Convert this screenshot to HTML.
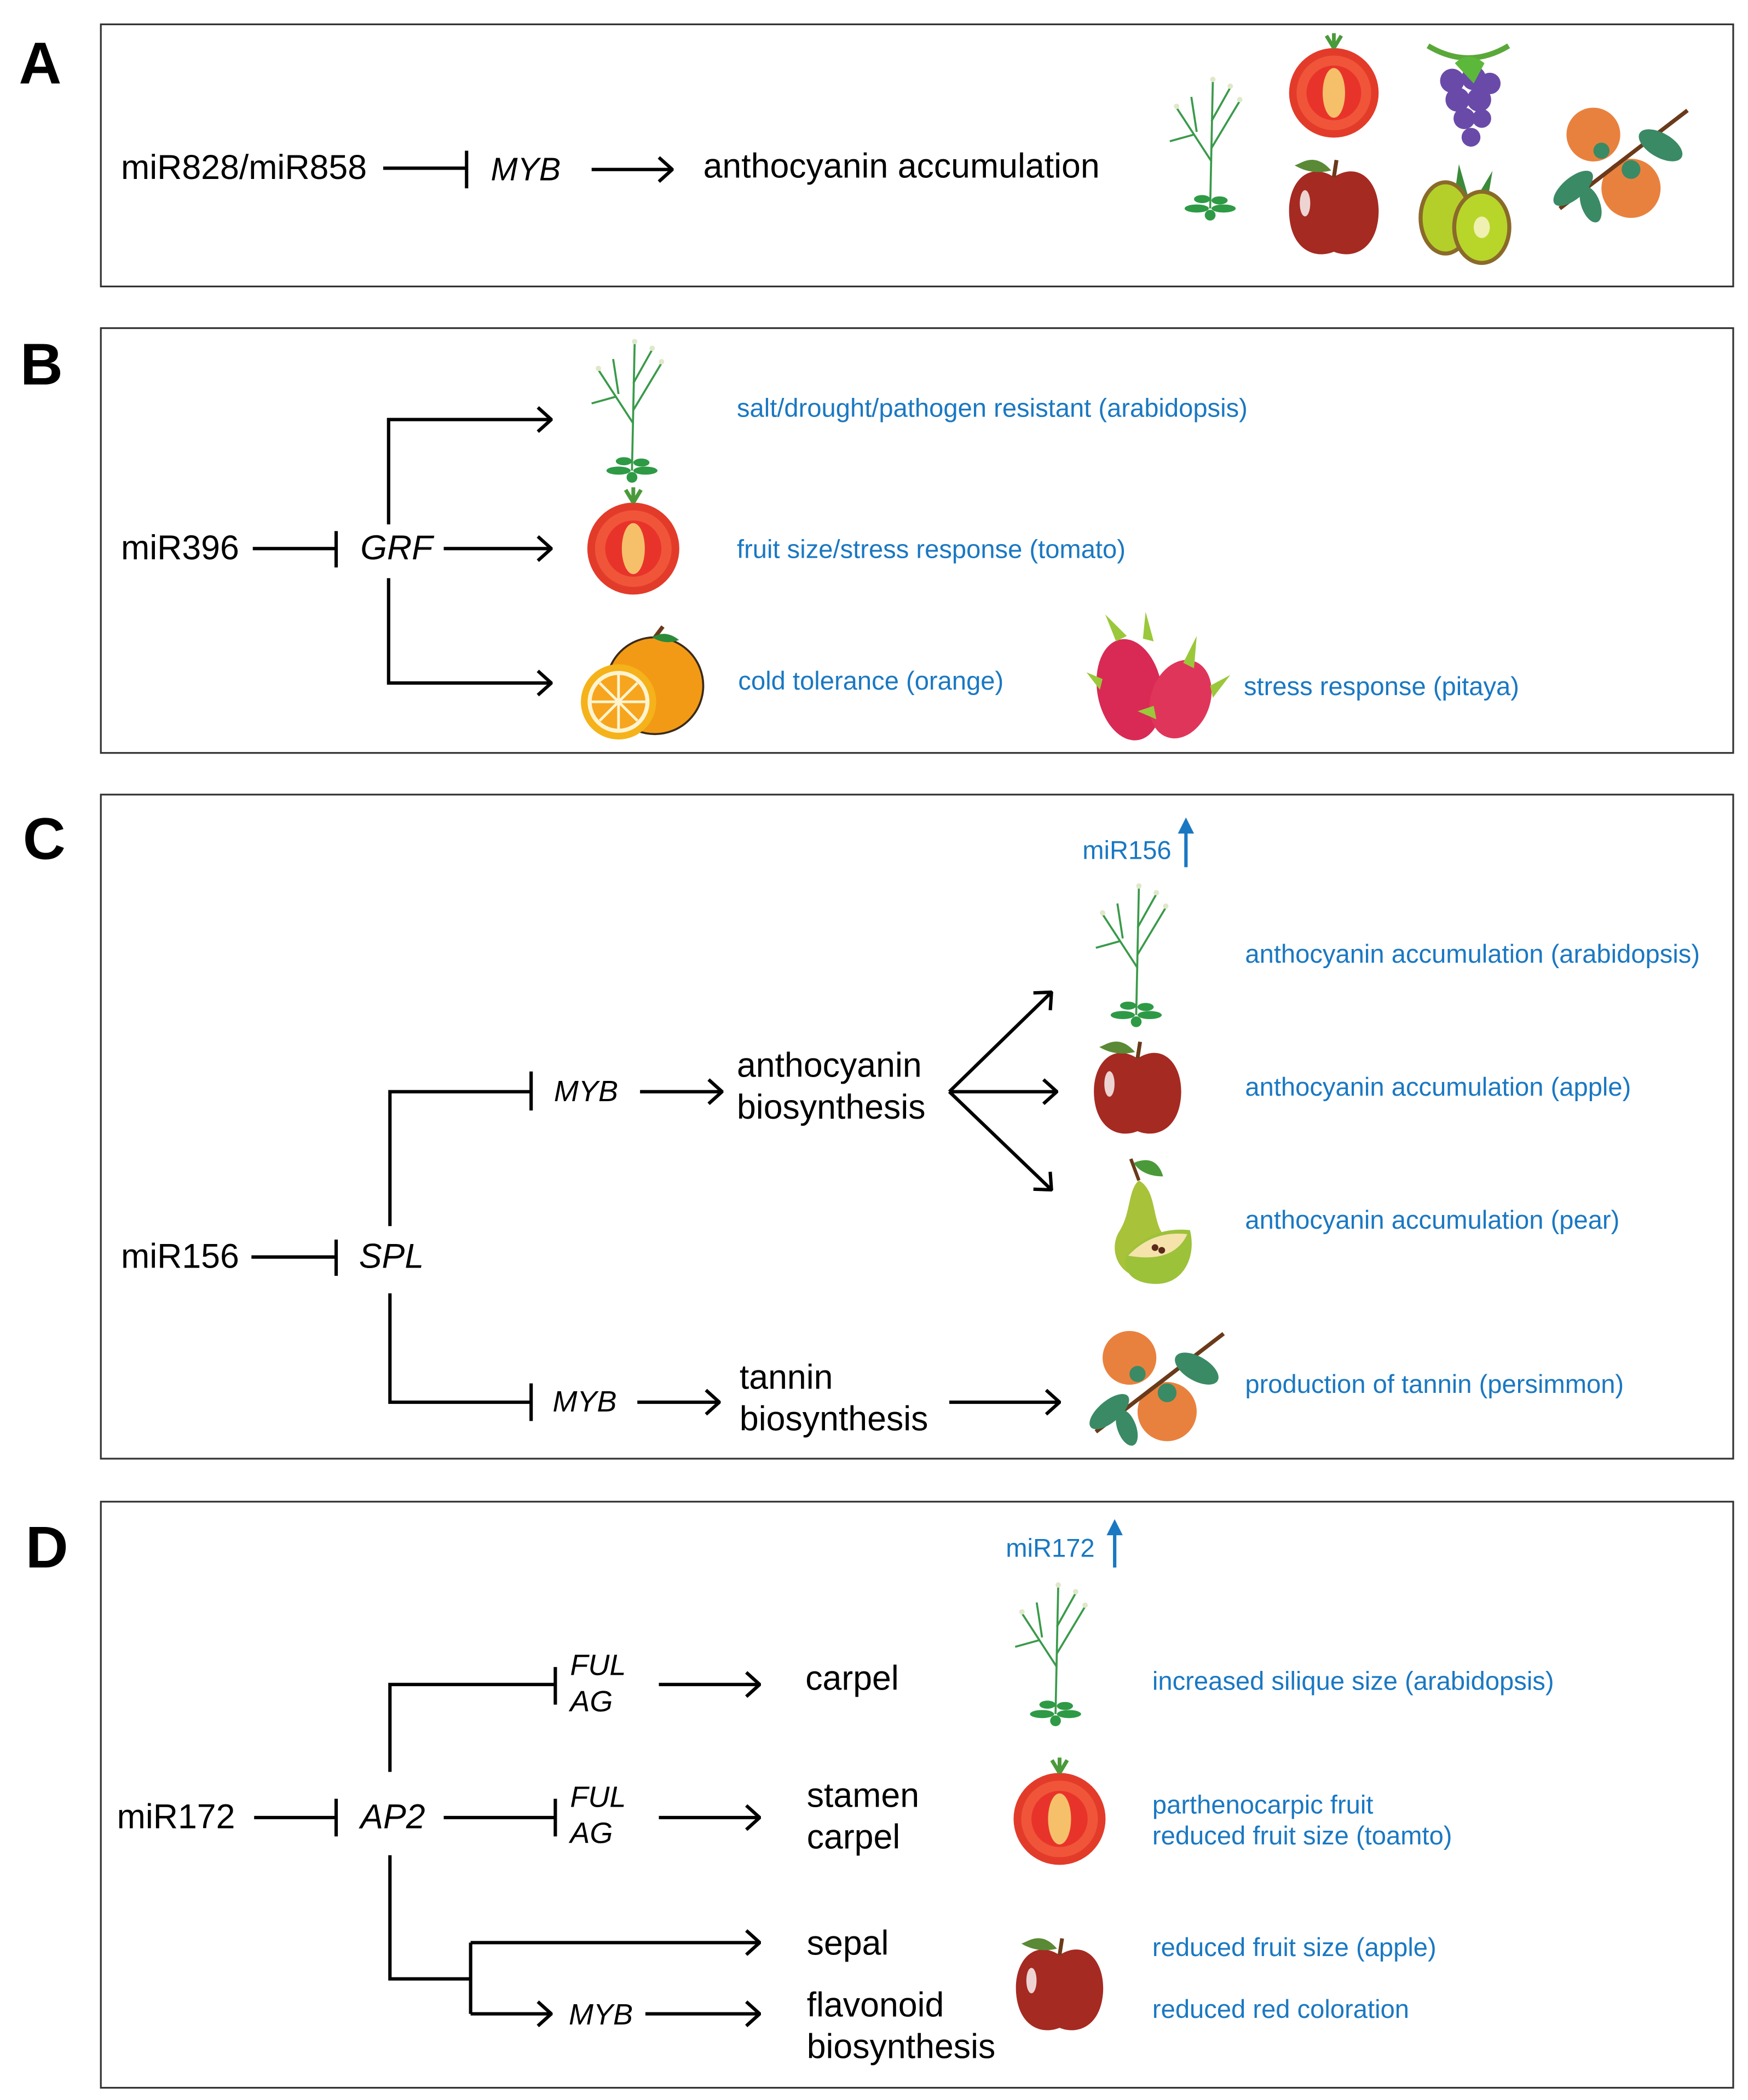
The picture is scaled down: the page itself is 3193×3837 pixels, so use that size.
<!DOCTYPE html>
<html><head><meta charset="utf-8"><style>html,body{margin:0;padding:0;background:#fff}svg{display:block}</style></head>
<body>
<svg xmlns="http://www.w3.org/2000/svg" width="3193" height="3837" viewBox="0 0 1300 1562" font-family="Liberation Sans, Arial, sans-serif">
<defs>
<marker id="ar" markerWidth="12" markerHeight="20" refX="11" refY="10" orient="auto" markerUnits="userSpaceOnUse"><path d="M1,1 L11,10 L1,19" fill="none" stroke="#000" stroke-width="2.5"/></marker>
<symbol id="plant" viewBox="-40 -55 80 110" overflow="visible">
<g stroke="#3a9a4a" stroke-width="1.5" fill="none"><path d="M0,45 L2,-50"/><path d="M1,10 L-25,-30"/><path d="M1,0 L22,-35"/><path d="M-12,-10 L-30,-5"/><path d="M1,-20 L15,-45"/><path d="M-10,-12 L-14,-38"/></g>
<g fill="#2e9a45"><ellipse cx="-10" cy="45" rx="9" ry="3"/><ellipse cx="10" cy="45" rx="9" ry="3"/><ellipse cx="-6" cy="38" rx="6" ry="3"/><ellipse cx="7" cy="39" rx="6" ry="3"/><ellipse cx="0" cy="50" rx="4" ry="4"/></g>
<g fill="#dfe8c8"><circle cx="-25" cy="-31" r="2"/><circle cx="22" cy="-36" r="2"/><circle cx="15" cy="-46" r="2"/><circle cx="2" cy="-51" r="2"/></g>
</symbol>
<symbol id="tomato" viewBox="-40 -40 80 80" overflow="visible">
<circle r="36" fill="#e33b2a"/><circle r="30" fill="#f0553a"/><circle r="22" fill="#e8332a"/><ellipse rx="9" ry="20" fill="#f6c06a"/>
<path d="M0,-36 L-6,-46 M0,-36 L6,-46 M0,-36 L0,-48" stroke="#4a9a3a" stroke-width="3"/>
</symbol>
<symbol id="apple" viewBox="-40 -40 80 80" overflow="visible">
<path d="M0,-25 C-20,-38 -36,-20 -34,5 C-32,30 -15,38 0,32 C15,38 32,30 34,5 C36,-20 20,-38 0,-25Z" fill="#a52a22"/>
<ellipse cx="-22" cy="-5" rx="4" ry="10" fill="#fff" opacity=".8"/>
<path d="M0,-25 L2,-38" stroke="#6b3a1a" stroke-width="3"/><path d="M-2,-30 C-15,-45 -25,-35 -30,-34 C-20,-28 -10,-28 -2,-30Z" fill="#5a8a35"/>
</symbol>
<symbol id="grape" viewBox="-40 -40 80 80" overflow="visible">
<path d="M-30,-38 Q0,-20 30,-38" stroke="#5aa83a" stroke-width="4" fill="none"/>
<g fill="#6a4aa8"><circle cx="-12" cy="-12" r="9"/><circle cx="4" cy="-14" r="9"/><circle cx="16" cy="-10" r="8"/><circle cx="-8" cy="2" r="9"/><circle cx="8" cy="2" r="9"/><circle cx="-3" cy="16" r="8"/><circle cx="10" cy="16" r="7"/><circle cx="2" cy="30" r="7"/></g>
<path d="M-10,-25 Q0,-35 12,-25 L4,-10Z" fill="#5cb83a"/>
</symbol>
<symbol id="kiwi" viewBox="-50 -40 100 80" overflow="visible">
<path d="M-5,-35 L5,0 L-10,0Z M20,-30 L15,0 L5,-5Z" fill="#3a8a3a"/>
<ellipse cx="-15" cy="5" rx="20" ry="28" fill="#8a6a2a"/><ellipse cx="-15" cy="5" rx="17" ry="25" fill="#b5cf2a"/>
<ellipse cx="12" cy="12" rx="22" ry="28" fill="#8a6a2a"/><ellipse cx="12" cy="12" rx="19" ry="25" fill="#b8d62a"/><ellipse cx="12" cy="12" rx="6" ry="8" fill="#f0f0b0"/>
</symbol>
<symbol id="persimmon" viewBox="-55 -45 110 90" overflow="visible">
<circle cx="-20" cy="-20" r="20" fill="#e9813e"/><circle cx="8" cy="20" r="22" fill="#e9813e"/>
<path d="M-45,35 L50,-38" stroke="#6a3a1a" stroke-width="3"/>
<g fill="#3a8a65"><ellipse cx="30" cy="-12" rx="18" ry="9" transform="rotate(30 30 -12)"/><ellipse cx="-35" cy="20" rx="18" ry="8" transform="rotate(-40 -35 20)"/><ellipse cx="-22" cy="32" rx="14" ry="7" transform="rotate(70 -22 32)"/><circle cx="-14" cy="-8" r="6"/><circle cx="8" cy="6" r="7"/></g>
</symbol>
<symbol id="orange" viewBox="-50 -45 100 90" overflow="visible">
<circle cx="12" cy="0" r="36" fill="#f29a16" stroke="#3a2a1a" stroke-width="1.5"/>
<circle cx="-15" cy="12" r="28" fill="#f5b21a"/><circle cx="-15" cy="12" r="23" fill="#fff4d0"/><circle cx="-15" cy="12" r="20" fill="#f7a51e"/>
<g stroke="#fff4d0" stroke-width="2"><path d="M-35,12 H5 M-15,-8 V32 M-29,-2 L-1,26 M-29,26 L-1,-2"/></g>
<path d="M12,-36 L18,-44" stroke="#6a3a1a" stroke-width="3"/><path d="M10,-36 Q20,-42 30,-34 Q20,-30 10,-36Z" fill="#2a8a3a"/>
</symbol>
<symbol id="pitaya" viewBox="-55 -50 110 100" overflow="visible">
<ellipse cx="-20" cy="8" rx="24" ry="38" fill="#d82a55" transform="rotate(-10 -20 8)"/>
<ellipse cx="18" cy="15" rx="22" ry="30" fill="#e0355a" transform="rotate(20 18 15)"/>
<g fill="#9ac83a"><path d="M-30,-28 L-38,-48 L-22,-32Z M-10,-30 L-8,-50 L-2,-28Z M-40,0 L-52,-5 L-42,8Z M20,-12 L30,-32 L28,-8Z M40,5 L55,-3 L42,14Z M-2,20 L-14,24 L0,30Z"/></g>
</symbol>
<symbol id="pear" viewBox="-45 -50 90 100" overflow="visible">
<path d="M-8,-32 C-16,-25 -14,-8 -22,5 C-32,20 -22,40 -5,40 C10,40 18,20 8,5 C2,-8 4,-25 -8,-32Z" fill="#a8c23a"/>
<path d="M-8,-32 L-14,-48" stroke="#6a3a1a" stroke-width="2.5"/><path d="M-12,-45 Q5,-52 10,-35 Q-5,-35 -12,-45Z" fill="#4a9a3a"/>
<path d="M-18,25 Q0,2 30,5 C35,25 25,45 5,45 C-10,45 -20,38 -18,25Z" fill="#9cc23a"/>
<path d="M-16,24 Q2,5 28,8 Q18,30 -16,24Z" fill="#f5e3ab"/>
<circle cx="4" cy="18" r="2.5" fill="#5a2a1a"/><circle cx="9" cy="20" r="2.5" fill="#5a2a1a"/>
</symbol>
</defs>
<g fill="none" stroke="#333" stroke-width="1.3">
<rect x="75" y="18" width="1214" height="195"/>
<rect x="75" y="244" width="1214" height="316"/>
<rect x="75" y="591" width="1214" height="494"/>
<rect x="75" y="1117" width="1214" height="436"/>
</g>
<g font-weight="bold" font-size="44" fill="#000">
<text x="14" y="62">A</text><text x="15" y="286">B</text><text x="17" y="639">C</text><text x="19" y="1166">D</text>
</g>
<g stroke="#000" stroke-width="2.5" fill="none">
<path d="M285,125 H347 M347,112 V140"/><path d="M440,126 H500" marker-end="url(#ar)"/>
<path d="M188,408 H250 M250,395 V422"/><path d="M330,408 H410" marker-end="url(#ar)"/>
<path d="M289,390 V312 H410" marker-end="url(#ar)"/><path d="M289,430 V508 H410" marker-end="url(#ar)"/>
<path d="M187,935 H250 M250,922 V949"/>
<path d="M290,912 V812 H395 M395,797 V826"/><path d="M476,812 H537" marker-end="url(#ar)"/>
<path d="M706,812 L782,738" marker-end="url(#ar)"/><path d="M706,812 H786" marker-end="url(#ar)"/><path d="M706,812 L782,885" marker-end="url(#ar)"/>
<path d="M290,962 V1043 H395 M395,1029 V1057"/><path d="M474,1043 H535" marker-end="url(#ar)"/><path d="M706,1043 H788" marker-end="url(#ar)"/>
<path d="M189,1352 H250 M250,1338 V1366"/>
<path d="M290,1318 V1253 H413 M413,1240 V1268"/><path d="M490,1253 H565" marker-end="url(#ar)"/>
<path d="M330,1352 H413 M413,1338 V1366"/><path d="M490,1352 H565" marker-end="url(#ar)"/>
<path d="M290,1380 V1472 H350 M350,1445 V1498"/><path d="M350,1445 H565" marker-end="url(#ar)"/><path d="M350,1498 H410" marker-end="url(#ar)"/><path d="M480,1498 H565" marker-end="url(#ar)"/>
</g>
<g stroke="#1a78c2" stroke-width="2.5" fill="#1a78c2">
<path d="M882,645 V618" fill="none"/><path d="M876,620 L882,608 L888,620Z" stroke="none"/>
<path d="M829,1166 V1140" fill="none"/><path d="M823,1142 L829,1130 L835,1142Z" stroke="none"/>
</g>
<g font-size="25.5" fill="#000">
<text x="90" y="133">miR828/miR858</text><text x="365" y="134" font-style="italic" font-size="24">MYB</text><text x="523" y="132">anthocyanin accumulation</text>
<text x="90" y="416">miR396</text><text x="268" y="416" font-style="italic">GRF</text>
<text x="90" y="943">miR156</text><text x="267" y="943" font-style="italic">SPL</text>
<text x="412" y="819" font-style="italic" font-size="22">MYB</text><text x="548" y="801">anthocyanin</text><text x="548" y="832">biosynthesis</text>
<text x="411" y="1050" font-style="italic" font-size="22">MYB</text><text x="550" y="1033">tannin</text><text x="550" y="1064">biosynthesis</text>
<text x="87" y="1360">miR172</text><text x="268" y="1360" font-style="italic">AP2</text>
<g font-style="italic" font-size="22"><text x="424" y="1246">FUL</text><text x="424" y="1273">AG</text><text x="424" y="1344">FUL</text><text x="424" y="1371">AG</text><text x="423" y="1506">MYB</text></g>
<text x="599" y="1257">carpel</text><text x="600" y="1344">stamen</text><text x="600" y="1375">carpel</text><text x="600" y="1454">sepal</text><text x="600" y="1500">flavonoid</text><text x="600" y="1531">biosynthesis</text>
</g>
<g font-size="19.2" fill="#1a78c2">
<text x="548" y="310">salt/drought/pathogen resistant (arabidopsis)</text>
<text x="548" y="415">fruit size/stress response (tomato)</text>
<text x="549" y="513">cold tolerance (orange)</text>
<text x="925" y="517">stress response (pitaya)</text>
<text x="805" y="639">miR156</text>
<text x="926" y="716">anthocyanin accumulation (arabidopsis)</text>
<text x="926" y="815">anthocyanin accumulation (apple)</text>
<text x="926" y="914">anthocyanin accumulation (pear)</text>
<text x="926" y="1036">production of tannin (persimmon)</text>
<text x="748" y="1158">miR172</text>
<text x="857" y="1257">increased silique size (arabidopsis)</text>
<text x="857" y="1349">parthenocarpic fruit</text>
<text x="857" y="1372">reduced fruit size (toamto)</text>
<text x="857" y="1455">reduced fruit size (apple)</text>
<text x="857" y="1501">reduced red coloration</text>
</g>
<use href="#plant" x="860" y="55" width="80" height="110"/>
<use href="#tomato" x="955" y="32" width="74" height="74"/>
<use href="#grape" x="1052" y="32" width="80" height="80"/>
<use href="#apple" x="953" y="117" width="78" height="78"/>
<use href="#kiwi" x="1040" y="117" width="100" height="80"/>
<use href="#persimmon" x="1150" y="75" width="110" height="90"/>
<use href="#plant" x="430" y="250" width="80" height="110"/>
<use href="#tomato" x="433" y="370" width="76" height="76"/>
<use href="#orange" x="425" y="465" width="100" height="90"/>
<use href="#pitaya" x="805" y="455" width="110" height="100"/>
<use href="#plant" x="805" y="655" width="80" height="110"/>
<use href="#apple" x="808" y="773" width="76" height="76"/>
<use href="#pear" x="810" y="860" width="90" height="100"/>
<use href="#persimmon" x="805" y="985" width="110" height="90"/>
<use href="#plant" x="745" y="1175" width="80" height="110"/>
<use href="#tomato" x="750" y="1315" width="76" height="76"/>
<use href="#apple" x="750" y="1440" width="76" height="76"/>
</svg>
</body></html>
